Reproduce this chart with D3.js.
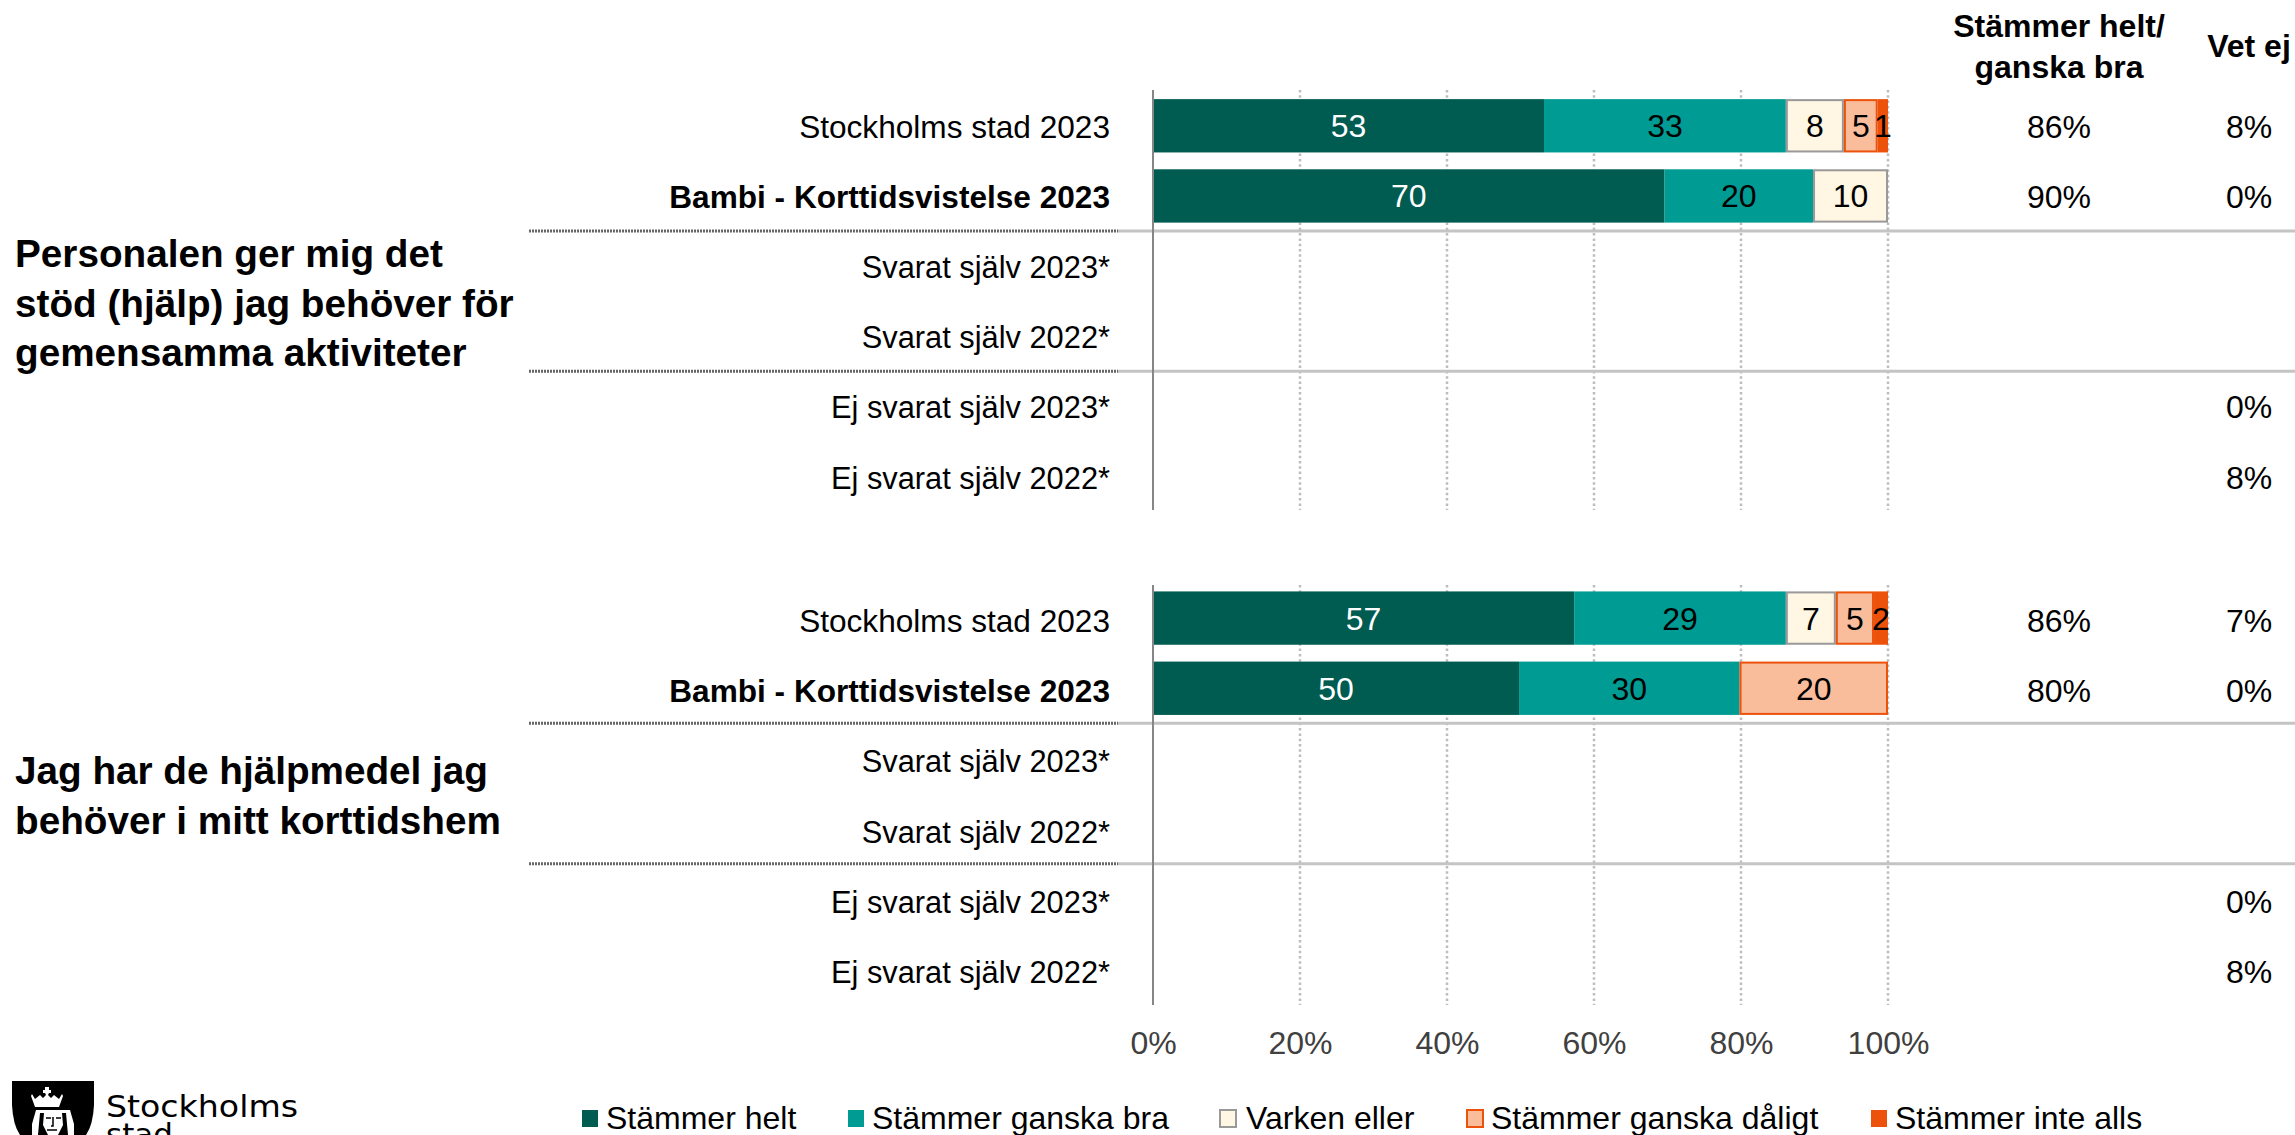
<!DOCTYPE html>
<html lang="en">
<head>
  <meta charset="UTF-8" />
  <title>Stockholms stad</title>
  <script src="https://d3js.org/d3.v7.min.js"></script>
  <style>
    body { margin: 0; background: #fff; overflow: hidden; }
    svg { display: block; font-family: "Liberation Sans", Arial, sans-serif; }
    .rowlabel { font-size: 31.6px; text-anchor: end; fill: #000; }
    .value { font-size: 32px; text-anchor: middle; }
    .head { font-size: 32px; font-weight: bold; text-anchor: middle; }
    .title { font-size: 38.7px; font-weight: bold; }
    .axis text { font-size: 32px; fill: #404040; }
    .axis .domain, .axis line { stroke: none; }
    .legend text { font-size: 32px; }
    .logotext { font-family: "DejaVu Sans", sans-serif; font-size: 31px; }
  </style>
</head>
<body>
  <svg width="2295" height="1135"></svg>

  <script>
    const seriesNames = ["Stämmer helt", "Stämmer ganska bra", "Varken eller", "Stämmer ganska dåligt", "Stämmer inte alls"];
    const seriesFill = ["#005b50", "#009b93", "#fff6e3", "#f9bd9c", "#ec520b"];
    const seriesStroke = ["#005b50", "#009b93", "#999999", "#ec520b", "#ec520b"];
    const labelFill = ["#fff", "#000", "#000", "#000", "#000"];

    const rowLabels = ["Stockholms stad 2023", "Bambi - Korttidsvistelse 2023", "Svarat själv 2023*", "Svarat själv 2022*", "Ej svarat själv 2023*", "Ej svarat själv 2022*"];

    const titleA = ["Personalen ger mig det", "stöd (hjälp) jag behöver för", "gemensamma aktiviteter"];
    const valuesA = [[53.2, 32.9, 7.9, 4.6, 1.4], [69.6, 20.2, 10.2, 0, 0]];
    const totalsA = ["86%", "90%", "", "", "", ""];
    const vetEjA = ["8%", "0%", "", "", "0%", "8%"];

    const titleB = ["Jag har de hjälpmedel jag", "behöver i mitt korttidshem"];
    const valuesB = [[57.3, 28.8, 6.8, 5.2, 1.9], [49.8, 30, 0, 20.2, 0]];
    const totalsB = ["86%", "80%", "", "", "", ""];
    const vetEjB = ["7%", "0%", "", "", "0%", "8%"];

    const xTicks = [0, 20, 40, 60, 80, 100];

    const svg = d3.select("svg");
    const x = d3.scaleLinear().domain([0, 100]).range([1153, 1888]);

    function panel(top, axisTop, barDy, textDy, title, titleTop, values, totals, vetEj) {
      const y = d3.scaleBand().domain(d3.range(6)).range([top, top + 421]).paddingInner(0.24).paddingOuter(0.12);
      const row = i => y(i) + y.bandwidth() / 2;
      const g = svg.append("g");

      // grid
      g.selectAll(".grid").data(xTicks.slice(1)).join("line")
        .attr("x1", d => x(d)).attr("x2", d => x(d))
        .attr("y1", axisTop).attr("y2", axisTop + 420)
        .attr("stroke", "#bdbdbd").attr("stroke-width", 2.5).attr("stroke-dasharray", "2.5 2.8");

      // stacked bars
      values.forEach((vals, r) => {
        let sum = 0;
        vals.forEach((v, s) => {
          const x0 = x(sum);
          sum += v;
          if (!v) return;
          const boxed = s === 2 || s === 3;
          const inset = boxed ? 1 : 0;
          g.append("rect")
            .attr("x", x0 + inset).attr("y", y(r) + inset)
            .attr("width", x(sum) - x0 - inset * 2).attr("height", y.bandwidth() - inset * 2)
            .attr("fill", seriesFill[s])
            .attr("stroke", boxed ? seriesStroke[s] : "none").attr("stroke-width", 2);
          g.append("text").attr("class", "value")
            .attr("x", (x0 + x(sum)) / 2).attr("y", row(r) + barDy)
            .attr("fill", labelFill[s])
            .text(d3.format(".0f")(v));
        });
      });

      // group separators
      [2, 4].forEach(i => {
        const sy = y(i) - y.step() * y.paddingInner() / 2;
        g.append("line").attr("x1", 1118).attr("x2", 2295).attr("y1", sy).attr("y2", sy)
          .attr("stroke", "#c4c4c4").attr("stroke-width", 3);
        g.append("line").attr("x1", 529).attr("x2", 1118).attr("y1", sy).attr("y2", sy)
          .attr("stroke", "#666").attr("stroke-width", 3).attr("stroke-dasharray", "2 1");
      });

      g.append("line").attr("x1", x(0)).attr("x2", x(0)).attr("y1", axisTop).attr("y2", axisTop + 420)
        .attr("stroke", "#868686").attr("stroke-width", 2);

      g.selectAll(".rowlabel").data(rowLabels).join("text").attr("class", "rowlabel")
        .attr("x", 1110).attr("y", (d, i) => row(i) + textDy)
        .style("font-weight", (d, i) => i === 1 ? "bold" : null)
        .style("font-size", (d, i) => i > 1 ? "30.8px" : null)
        .text(d => d);

      g.selectAll(".total").data(totals).join("text").attr("class", "value total")
        .attr("x", 2059).attr("y", (d, i) => row(i) + textDy).text(d => d);
      g.selectAll(".vetej").data(vetEj).join("text").attr("class", "value vetej")
        .attr("x", 2249).attr("y", (d, i) => row(i) + textDy).text(d => d);

      g.selectAll(".title").data(title).join("text").attr("class", "title")
        .attr("x", 15).attr("y", (d, i) => titleTop + i * 49.5).text(d => d);
    }

    panel(90.7, 90, 11, 12, titleA, 267, valuesA, totalsA, vetEjA);
    panel(583, 585, 12, 14, titleB, 784, valuesB, totalsB, vetEjB);

    // headers
    svg.append("text").attr("class", "head").attr("x", 2059).attr("y", 37).text("Stämmer helt/");
    svg.append("text").attr("class", "head").attr("x", 2059).attr("y", 78).text("ganska bra");
    svg.append("text").attr("class", "head").attr("x", 2249).attr("y", 57).text("Vet ej");

    // x axis
    svg.append("g").attr("class", "axis")
      .attr("transform", "translate(0,1031)")
      .call(d3.axisBottom(x).tickValues(xTicks).tickFormat(d => d + "%").tickSize(0).tickPadding(0));

    // legend
    const legendX = [581, 847, 1219, 1466, 1870];
    const legendText = [25, 25, 27, 25, 25];
    const legend = svg.append("g").attr("class", "legend");
    seriesNames.forEach((name, i) => {
      const boxed = i === 2 || i === 3;
      legend.append("rect")
        .attr("x", legendX[i] + 1).attr("y", 1110).attr("width", 16).attr("height", 17)
        .attr("fill", seriesFill[i])
        .attr("stroke", boxed ? seriesStroke[i] : "none").attr("stroke-width", 2);
      legend.append("text").attr("x", legendX[i] + legendText[i]).attr("y", 1129).text(name);
    });

    // logo, cut by the bottom edge as in the original
    const logo = svg.append("g");
    logo.append("path").attr("d", "M12 1081H94L94 1105Q93 1125 86 1135H20Q13 1125 12 1105Z").attr("fill", "#000");
    logo.append("path").attr("d", "M32 1094l3 5 5-4 3 3 3-3-1-2h-2v-3h2v-3h4v3h2v3h-2l-1 2 3 3 3-3 5 4 3-5 1 2-4 11H35l-4-11Z").attr("fill", "#fff");
    logo.append("path").attr("d", "M36 1110H70L74 1124V1135H32V1124Z").attr("fill", "#fff");
    logo.append("path").attr("d", "M40 1113H66L68 1135H38Z").attr("fill", "#000");
    logo.append("path").attr("d", "M44 1113H62L63 1125L58 1135H48L43 1125Z").attr("fill", "#fff");
    logo.append("path").attr("d", "M46 1118h5M56 1118h5M53 1117v9h-2M47 1130h10").attr("stroke", "#000").attr("stroke-width", 1.5).attr("fill", "none");
    logo.append("text").attr("class", "logotext").attr("x", 106).attr("y", 1117)
      .attr("textLength", 192).attr("lengthAdjust", "spacingAndGlyphs").text("Stockholms");
    logo.append("text").attr("class", "logotext").attr("x", 106).attr("y", 1145)
      .text("stad");
  </script>
</body>
</html>
